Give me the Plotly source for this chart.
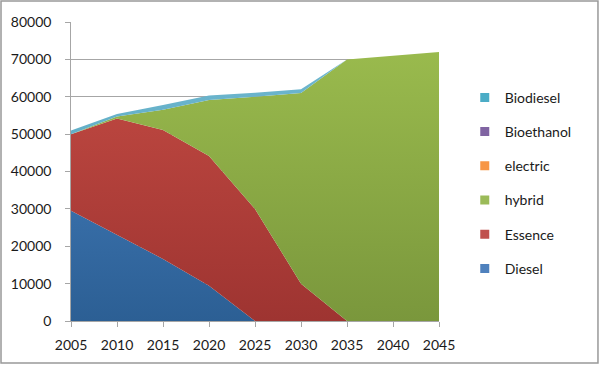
import plotly.graph_objects as go

years = [2005, 2010, 2015, 2020, 2025, 2030, 2035, 2040, 2045]
diesel = [29500, 23000, 16600, 9400, 0, 0, 0, 0, 0]
essence = [20500, 31200, 34500, 34750, 30000, 10000, 0, 0, 0]
hybrid = [0, 500, 5400, 15000, 30000, 51000, 70000, 71000, 72000]
electric = [0, 0, 0, 0, 0, 0, 0, 0, 0]
bioethanol = [0, 0, 0, 0, 0, 0, 0, 0, 0]
biodiesel = [1000, 700, 1300, 1200, 1100, 1000, 0, 0, 0]

y_ticks = [0, 10000, 20000, 30000, 40000, 50000, 60000, 70000, 80000]
x_ticks = years

series = [
    ("Diesel", diesel, "#4F81BD", ["#2C5F94", "#4A86C8"]),
    ("Essence", essence, "#C0504D", ["#9E3431", "#C74D45"]),
    ("hybrid", hybrid, "#9BBB59", ["#7A973C", "#9DBE4F"]),
    ("electric", electric, "#F79646", ["#E07F2C", "#F79646"]),
    ("Bioethanol", bioethanol, "#8064A2", ["#6A4F8C", "#8064A2"]),
    ("Biodiesel", biodiesel, "#4BACC6", ["#3E9AB2", "#78BCD4"]),
]

FONT = "Lato, 'Open Sans', sans-serif"
NBSP = "\u00a0"
fig = go.Figure()

for name, vals, col, grad in series:
    fig.add_trace(go.Scatter(
        x=years, y=vals, name=name, stackgroup="one", mode="lines",
        line=dict(width=0, color=col), fillcolor=col,
        fillgradient=dict(type="vertical", start=0, stop=80000,
                          colorscale=[[0, grad[0]], [1, grad[1]]]),
        showlegend=False, hoverinfo="skip",
    ))

# legend entries, top to bottom as in the reference
for name, vals, col, grad in reversed(series):
    fig.add_trace(go.Scatter(
        x=[None], y=[None], name=name, mode="markers",
        marker=dict(symbol="square", size=9, color=col),
        legendgroup=name, showlegend=True,
    ))

fig.update_layout(
    width=600, height=365,
    margin=dict(l=71, r=161, t=22, b=44),
    paper_bgcolor="white", plot_bgcolor="white",
    font=dict(family=FONT, size=14, color="#1a1a1a"),
    legend=dict(
        x=1.07, y=0.80, xanchor="left", yanchor="top",
        traceorder="grouped", tracegroupgap=13,
        font=dict(family=FONT, size=14, color="#1a1a1a"),
        bgcolor="rgba(0,0,0,0)", itemwidth=30,
    ),
    xaxis=dict(
        range=[2005, 2045], tickvals=x_ticks, ticktext=[str(v) for v in x_ticks],
        showgrid=False, zeroline=False, showline=True, linecolor="#A6A6A6",
        linewidth=1, ticks="outside", ticklen=5, tickcolor="#A6A6A6",
        ticklabelstandoff=6,
    ),
    yaxis=dict(
        range=[0, 80000], tickvals=y_ticks,
        ticktext=[str(v) + NBSP * 3 for v in y_ticks],
        showgrid=True, gridcolor="#A6A6A6", gridwidth=1, zeroline=False,
        showline=True, linecolor="#A6A6A6", linewidth=1,
        ticks="outside", ticklen=5, tickcolor="#A6A6A6",
    ),
    shapes=[dict(type="rect", xref="paper", yref="paper",
                 x0=-0.1902, x1=1.432, y0=-0.1405, y1=1.0702,
                 line=dict(color="#999999", width=1.5), layer="below")],
)

fig.write_html("out.html", config={"displayModeBar": False},
               post_script="document.body.style.margin='0';")
